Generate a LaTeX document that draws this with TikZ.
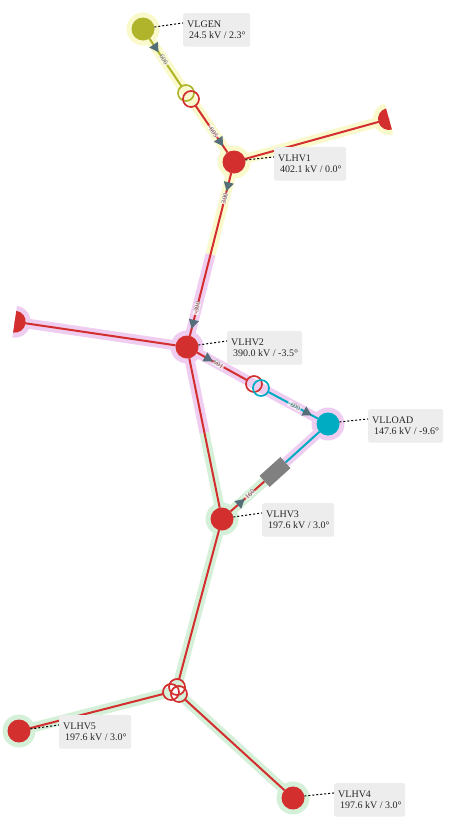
\documentclass[tikz,border=0pt]{standalone}
\usepackage{fontspec}
\setmainfont{Liberation Serif}
\usetikzlibrary{calc,positioning,shapes.geometric}
\definecolor{busred}{HTML}{D32F2F}
\definecolor{busolive}{HTML}{AFB42B}
\definecolor{busteal}{HTML}{00ACC1}
\definecolor{haloyellow}{HTML}{F9F9CC}
\definecolor{halopink}{HTML}{EFCDF0}
\definecolor{halogreen}{HTML}{D5F0D8}
\definecolor{flowgray}{HTML}{546E7A}
\definecolor{boxgray}{HTML}{EDEDED}
\pgfdeclarelayer{halos}
\pgfdeclarelayer{wires}
\pgfsetlayers{halos,wires,main}
\tikzstyle{bus}       = [circle, minimum size=23pt, inner sep=0pt, outer sep=0pt]
\tikzstyle{bushalo}   = [circle, minimum size=33pt, inner sep=0pt, outer sep=0pt]
\tikzstyle{winding}   = [circle, minimum size=16pt, inner sep=0pt, outer sep=0pt, draw, line width=1.7pt]
\tikzstyle{dangling}  = [semicircle, anchor=chord center, minimum width=22pt, inner sep=0pt, outer sep=0pt]
\tikzstyle{danglinghalo} = [semicircle, anchor=chord center, minimum width=32pt, inner sep=0pt, outer sep=0pt]
\tikzstyle{halo}      = [line width=10pt]
\tikzstyle{wire}      = [line width=2pt]
\tikzstyle{flow}      = [isosceles triangle, isosceles triangle apex angle=60, fill=flowgray, minimum size=9pt, inner sep=0pt, sloped, allow upside down]
\tikzstyle{flowlabel} = [font=\fontsize{7}{7}\selectfont, text=black!65, fill=white, fill opacity=.7, text opacity=1, inner sep=.6pt, sloped]
\tikzstyle{infobox}   = [anchor=north west, fill=boxgray, rounded corners=2pt, minimum height=33.5pt, inner sep=0pt, font=\fontsize{10}{11.5}\selectfont, align=flush left, text=black!85]
\tikzstyle{leader}    = [line width=1pt, dash pattern=on 2pt off 2pt]

\begin{document}
\begin{tikzpicture}[x=1pt,y=-1pt]
	\useasboundingbox (0,0) rectangle (452,825);

	% buses
	\node[bus, fill=busolive] (vlgen)  at (143,29)  {};
	\node[bus, fill=busred]   (vlhv1)  at (234,162) {};
	\node[bus, fill=busred]   (vlhv2)  at (187,347) {};
	\node[bus, fill=busteal]  (vlload) at (328,424) {};
	\node[bus, fill=busred]   (vlhv3)  at (222,519) {};
	\node[bus, fill=busred]   (vlhv5)  at (19,731)  {};
	\node[bus, fill=busred]   (vlhv4)  at (293,798) {};

	% dangling lines
	\node[dangling, fill=busred, rotate=105.6] (dang1) at (389,119) {};
	\node[dangling, fill=busred, rotate=-98.3] (dang2) at (14.7,321.7) {};

	% transformers
	\node[winding, draw=busolive] (t1a) at (186,93)  {};
	\node[winding, draw=busred]   (t1b) at (191,99)  {};
	\node[winding, draw=busred]   (t2a) at (254,384) {};
	\node[winding, draw=busteal]  (t2b) at (261,388) {};
	\node[winding, draw=busred]   (t3a) at (177,687) {};
	\node[winding, draw=busred]   (t3b) at (171,692) {};
	\node[winding, draw=busred]   (t3c) at (179,694) {};

	% series element
	\node[fill=gray, minimum width=28pt, minimum height=15pt, inner sep=0pt, rotate=42] (hvdc) at (275,472) {};

	\begin{pgfonlayer}{halos}
		\node[bushalo, fill=haloyellow] (vlgenhalo)  at (vlgen)  {};
		\node[bushalo, fill=haloyellow] (vlhv1halo)  at (vlhv1)  {};
		\node[bushalo, fill=halopink]   (vlhv2halo)  at (vlhv2)  {};
		\node[bushalo, fill=halopink]   (vlloadhalo) at (vlload) {};
		\node[bushalo, fill=halogreen]  (vlhv3halo)  at (vlhv3)  {};
		\node[bushalo, fill=halogreen]  (vlhv5halo)  at (vlhv5)  {};
		\node[bushalo, fill=halogreen]  (vlhv4halo)  at (vlhv4)  {};
		\node[danglinghalo, fill=haloyellow, rotate=105.6] (dang1halo) at (389,119) {};
		\node[danglinghalo, fill=halopink, rotate=-98.3]   (dang2halo) at (14.7,321.7) {};
		\node[coordinate] (mid12) at ($(vlhv1)!.5!(vlhv2)$) {};
		\node[coordinate] (mid23) at ($(vlhv2)!.5!(vlhv3)$) {};
		\draw[halo, haloyellow] (vlgen.center) -- (t1a.center);
		\draw[halo, haloyellow] (t1a.center) -- (t1b.center) -- (vlhv1.center);
		\draw[halo, haloyellow] (vlhv1.center) -- (dang1.chord center);
		\draw[halo, haloyellow] (vlhv1.center) -- (mid12);
		\draw[halo, halopink]   (mid12) -- (vlhv2.center);
		\draw[halo, halopink]   (vlhv2.center) -- (dang2.chord center);
		\draw[halo, halopink]   (vlhv2.center) -- (t2a.center) -- (t2b.center) -- (vlload.center);
		\draw[halo, halopink]   (vlload.center) -- (hvdc.center);
		\draw[halo, halogreen]  (hvdc.center) -- (vlhv3.center);
		\draw[halo, halopink]   (vlhv2.center) -- (mid23);
		\draw[halo, halogreen]  (mid23) -- (vlhv3.center);
		\draw[halo, halogreen]  (vlhv3.center) -- (t3a.center);
		\draw[halo, halogreen]  (vlhv5.center) -- (t3b.center);
		\draw[halo, halogreen]  (vlhv4.center) -- (t3c.center);
	\end{pgfonlayer}

	\begin{pgfonlayer}{wires}
		\draw[wire, busolive] (vlgen) -- (t1a)
			node[flow, pos=.18] (flowa) {} node[flowlabel, pos=.45] (labela) {606};
		\draw[wire, busred] (t1b) -- (vlhv1)
			node[flow, pos=.76] (flowb) {} node[flowlabel, pos=.55] (labelb) {-605};
		\draw[wire, busred] (vlhv1) -- (dang1.chord center);
		\draw[wire, busred] (vlhv1) -- (vlhv2)
			node[flow, pos=.075] (flowc) {} node[flowlabel, pos=.155] (labelc) {300}
			node[flow, pos=.92] (flowd) {} node[flowlabel, pos=.83] (labeld) {-300};
		\draw[wire, busred] (vlhv2) -- (dang2.chord center);
		\draw[wire, busred] (vlhv2) -- (t2a)
			node[flow, pos=.21] (flowe) {} node[flowlabel, pos=.43] (labele) {601};
		\draw[wire, busteal] (t2b) -- (vlload)
			node[flow, pos=.77] (flowf) {} node[flowlabel, pos=.53] (labelf) {-600};
		\draw[wire, busteal] (vlload) -- (hvdc);
		\draw[wire, busred] (vlhv3) -- (hvdc)
			node[flow, pos=.28] (flowg) {} node[flowlabel, pos=.57] (labelg) {160};
		\draw[wire, busred] (vlhv2) -- (vlhv3);
		\draw[wire, busred] (vlhv3) -- (t3a);
		\draw[wire, busred] (vlhv5) -- (t3b);
		\draw[wire, busred] (vlhv4) -- (t3c);
	\end{pgfonlayer}

	% info boxes
	\node[infobox, text width=67pt] (vlgeninfo)  at (183,13)  {\hspace{4pt}VLGEN\\\hspace{6pt}24.5 kV / 2.3°};
	\node[infobox, text width=72pt] (vlhv1info)  at (274,147) {\hspace{4pt}VLHV1\\\hspace{6pt}402.1 kV / 0.0°};
	\node[infobox, text width=75pt] (vlhv2info)  at (227,331) {\hspace{4pt}VLHV2\\\hspace{6pt}390.0 kV / -3.5°};
	\node[infobox, text width=75pt] (vlloadinfo) at (368,409) {\hspace{4pt}VLLOAD\\\hspace{6pt}147.6 kV / -9.6°};
	\node[infobox, text width=72pt] (vlhv3info)  at (262,503) {\hspace{4pt}VLHV3\\\hspace{6pt}197.6 kV / 3.0°};
	\node[infobox, text width=72pt] (vlhv5info)  at (59,715)  {\hspace{4pt}VLHV5\\\hspace{6pt}197.6 kV / 3.0°};
	\node[infobox, text width=71pt] (vlhv4info)  at (334,783) {\hspace{4pt}VLHV4\\\hspace{6pt}197.6 kV / 3.0°};

	% leaders
	\draw[leader] (vlgen.10)  -- ([yshift=7pt]vlgeninfo.west);
	\draw[leader] (vlhv1.10)  -- ([yshift=7pt]vlhv1info.west);
	\draw[leader] (vlhv2.10)  -- ([yshift=7pt]vlhv2info.west);
	\draw[leader] (vlload.10) -- ([yshift=7pt]vlloadinfo.west);
	\draw[leader] (vlhv3.10)  -- ([yshift=7pt]vlhv3info.west);
	\draw[leader] (vlhv5.10)  -- ([yshift=7pt]vlhv5info.west);
	\draw[leader] (vlhv4.10)  -- ([yshift=7pt]vlhv4info.west);
\end{tikzpicture}
\end{document}
